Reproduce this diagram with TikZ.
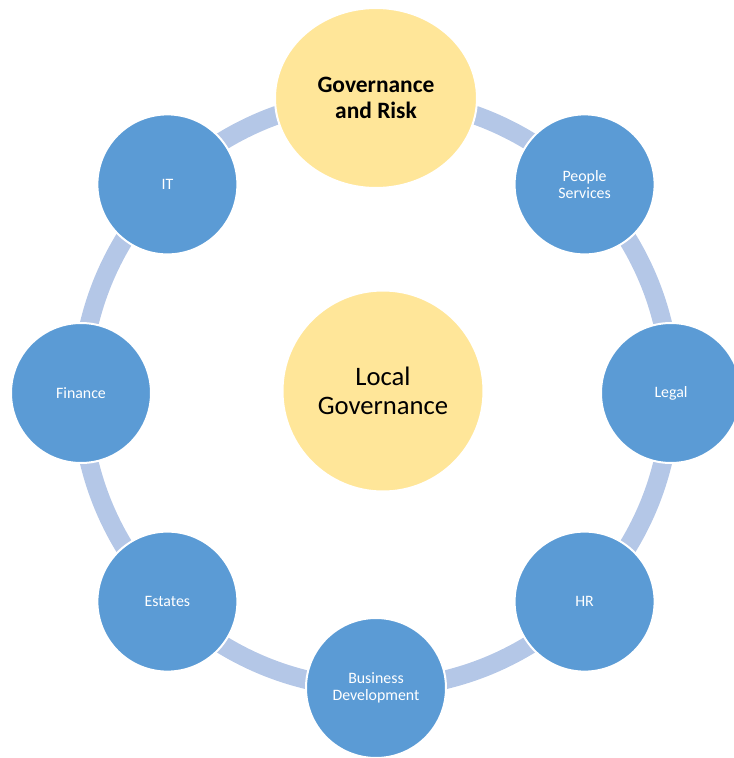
\documentclass[tikz,border=0pt]{standalone}
\usepackage{fontspec}
\setmainfont{Carlito}
\usetikzlibrary{calc,shapes.geometric,backgrounds}
\definecolor{UnitBlue}{HTML}{5B9BD5}
\definecolor{GovYellow}{HTML}{FFE699}
\definecolor{RingBlue}{HTML}{B4C7E7}

\begin{document}
\begin{tikzpicture}[x=.75pt,y=.75pt,
  unit/.style={circle,fill=UnitBlue,draw=white,line width=1.5pt,minimum size=105pt,inner sep=0pt,align=center,text=white,font=\fontsize{11.9}{13}\selectfont},
  gov/.style={fill=GovYellow,draw=white,line width=1.5pt,align=center,inner sep=0pt,text=black},
  ring/.style={RingBlue,line width=14pt}]
\def\R{295}
\useasboundingbox (-376,-365) rectangle (357,393);
\coordinate (C) at (0,0);

\node[gov,ellipse,minimum width=151.5pt,minimum height=135pt,font=\fontsize{17.6}{19.5}\bfseries\selectfont] (risk) at (90:\R) {Governance\\and Risk};
\node[unit] (people) at (45:\R) {People\\Services};
\node[unit] (legal) at (0:\R) {Legal};
\node[unit] (hr) at (-45:\R) {HR};
\node[unit] (busdev) at (-90:\R) {Business\\Development};
\node[unit] (estates) at (-135:\R) {Estates};
\node[unit] (finance) at (180:\R) {Finance};
\node[unit] (it) at (135:\R) {IT};

\node[gov,circle,minimum size=150.75pt,font=\fontsize{20}{21.5}\selectfont] (local) at ($(C)+(7,2)$) {Local\\Governance};

\begin{pgfonlayer}{background}
\draw[ring] (risk.center) arc[start angle=90,end angle=45,radius=\R];
\draw[ring] (people.center) arc[start angle=45,end angle=0,radius=\R];
\draw[ring] (legal.center) arc[start angle=0,end angle=-45,radius=\R];
\draw[ring] (hr.center) arc[start angle=-45,end angle=-90,radius=\R];
\draw[ring] (busdev.center) arc[start angle=-90,end angle=-135,radius=\R];
\draw[ring] (estates.center) arc[start angle=-135,end angle=-180,radius=\R];
\draw[ring] (finance.center) arc[start angle=180,end angle=135,radius=\R];
\draw[ring] (it.center) arc[start angle=135,end angle=90,radius=\R];
\end{pgfonlayer}

\end{tikzpicture}
\end{document}
